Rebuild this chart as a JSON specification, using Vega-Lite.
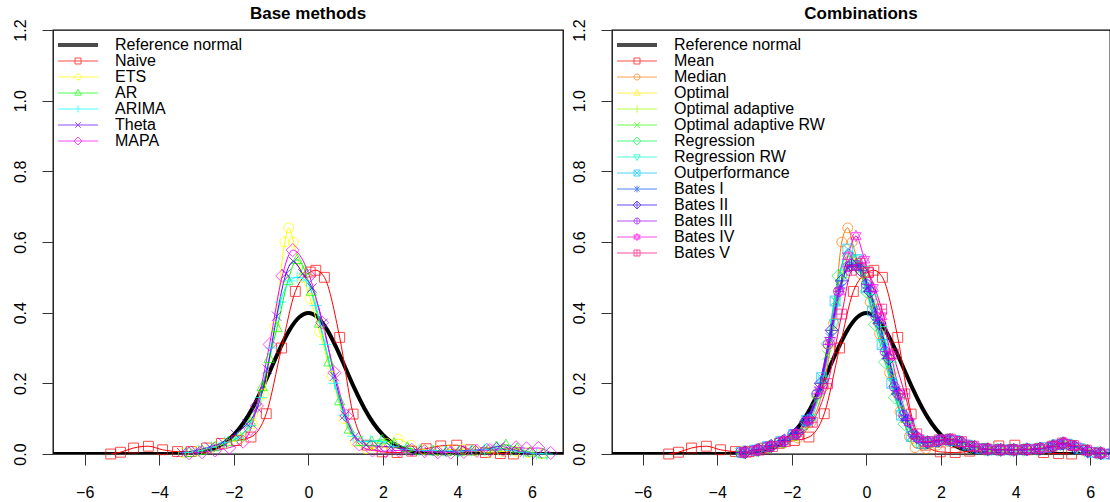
{
  "$schema": "https://vega.github.io/schema/vega-lite/v6.json",
  "usermeta": {"embedOptions": {"actions": false}},
  "background": "white",
  "padding": {"left": 11, "top": 4, "right": 0, "bottom": 0},
  "autosize": {"type": "pad"},
  "spacing": 6,
  "config": {
    "font": "Liberation Sans",
    "view": {"stroke": "black", "strokeWidth": 1.3},
    "axis": {"labelFont": "Liberation Sans", "labelFontSize": 16, "labelColor": "black", "tickColor": "#333", "tickSize": 11, "tickWidth": 1, "domain": false, "grid": false, "title": null, "labelFlush": false, "labelOverlap": false},
    "axisX": {"labelPadding": 19, "labelBaseline": "top"},
    "axisY": {"labelPadding": 14, "labelAngle": -90, "labelAlign": "center", "labelBaseline": "bottom"},
    "title": {"font": "Liberation Sans", "fontSize": 17, "fontWeight": "bold", "color": "black", "offset": -4, "anchor": "middle", "baseline": "bottom"},
    "legend": {"title": null, "orient": "top-left", "offset": 7, "padding": 0, "rowPadding": -1.6, "symbolSize": 16, "symbolOffset": 10, "labelOffset": 29, "labelFont": "Liberation Sans", "labelFontSize": 16, "labelColor": "black", "labelLimit": 0, "symbolStrokeWidth": 1, "symbolFillColor": "transparent"},
    "point": {"filled": false, "size": 120, "strokeWidth": 1, "clip": true}
  },
  "resolve": {"scale": {"color": "independent", "x": "independent", "y": "independent"}},
  "datasets": {
    "normal": [
      {"method": "Reference normal", "x": -6.85, "y": 0},
      {"method": "Reference normal", "x": -5, "y": 0.0000015},
      {"method": "Reference normal", "x": -4.5, "y": 0.000016},
      {"method": "Reference normal", "x": -4, "y": 0.000134},
      {"method": "Reference normal", "x": -3.5, "y": 0.000873},
      {"method": "Reference normal", "x": -3, "y": 0.004432},
      {"method": "Reference normal", "x": -2.75, "y": 0.009094},
      {"method": "Reference normal", "x": -2.5, "y": 0.017528},
      {"method": "Reference normal", "x": -2.25, "y": 0.03174},
      {"method": "Reference normal", "x": -2, "y": 0.053991},
      {"method": "Reference normal", "x": -1.75, "y": 0.086277},
      {"method": "Reference normal", "x": -1.5, "y": 0.129518},
      {"method": "Reference normal", "x": -1.25, "y": 0.182649},
      {"method": "Reference normal", "x": -1, "y": 0.241971},
      {"method": "Reference normal", "x": -0.75, "y": 0.301137},
      {"method": "Reference normal", "x": -0.5, "y": 0.352065},
      {"method": "Reference normal", "x": -0.25, "y": 0.386668},
      {"method": "Reference normal", "x": 0, "y": 0.398942},
      {"method": "Reference normal", "x": 0.25, "y": 0.386668},
      {"method": "Reference normal", "x": 0.5, "y": 0.352065},
      {"method": "Reference normal", "x": 0.75, "y": 0.301137},
      {"method": "Reference normal", "x": 1, "y": 0.241971},
      {"method": "Reference normal", "x": 1.25, "y": 0.182649},
      {"method": "Reference normal", "x": 1.5, "y": 0.129518},
      {"method": "Reference normal", "x": 1.75, "y": 0.086277},
      {"method": "Reference normal", "x": 2, "y": 0.053991},
      {"method": "Reference normal", "x": 2.25, "y": 0.03174},
      {"method": "Reference normal", "x": 2.5, "y": 0.017528},
      {"method": "Reference normal", "x": 2.75, "y": 0.009094},
      {"method": "Reference normal", "x": 3, "y": 0.004432},
      {"method": "Reference normal", "x": 3.5, "y": 0.000873},
      {"method": "Reference normal", "x": 4, "y": 0.000134},
      {"method": "Reference normal", "x": 4.5, "y": 0.000016},
      {"method": "Reference normal", "x": 5, "y": 0.0000015},
      {"method": "Reference normal", "x": 6.85, "y": 0}
    ],
    "base": [
      {"method": "Naive", "x": -5.3, "y": 0}, {"method": "Naive", "x": -5.04, "y": 0.005}, {"method": "Naive", "x": -4.69, "y": 0.017}, {"method": "Naive", "x": -4.29, "y": 0.022}, {"method": "Naive", "x": -3.91, "y": 0.012}, {"method": "Naive", "x": -3.51, "y": 0.007}, {"method": "Naive", "x": -3.14, "y": 0.007}, {"method": "Naive", "x": -2.73, "y": 0.017}, {"method": "Naive", "x": -2.33, "y": 0.03}, {"method": "Naive", "x": -1.93, "y": 0.038}, {"method": "Naive", "x": -1.54, "y": 0.048}, {"method": "Naive", "x": -1.13, "y": 0.114}, {"method": "Naive", "x": -0.72, "y": 0.3}, {"method": "Naive", "x": -0.35, "y": 0.46}, {"method": "Naive", "x": 0.05, "y": 0.515}, {"method": "Naive", "x": 0.2, "y": 0.52}, {"method": "Naive", "x": 0.43, "y": 0.5}, {"method": "Naive", "x": 0.84, "y": 0.33}, {"method": "Naive", "x": 1.2, "y": 0.113}, {"method": "Naive", "x": 1.58, "y": 0.025}, {"method": "Naive", "x": 1.98, "y": 0.006}, {"method": "Naive", "x": 2.38, "y": 0.004}, {"method": "Naive", "x": 2.77, "y": 0.008}, {"method": "Naive", "x": 3.16, "y": 0.015}, {"method": "Naive", "x": 3.55, "y": 0.023}, {"method": "Naive", "x": 3.98, "y": 0.025}, {"method": "Naive", "x": 4.35, "y": 0.012}, {"method": "Naive", "x": 4.75, "y": 0.004}, {"method": "Naive", "x": 5.15, "y": 0.001}, {"method": "Naive", "x": 5.5, "y": 0},

      {"method": "ETS", "x": -3.35, "y": 0.003}, {"method": "ETS", "x": -2.98, "y": 0.008}, {"method": "ETS", "x": -2.6, "y": 0.018}, {"method": "ETS", "x": -2.23, "y": 0.03}, {"method": "ETS", "x": -1.86, "y": 0.042}, {"method": "ETS", "x": -1.5, "y": 0.085}, {"method": "ETS", "x": -1.2, "y": 0.17}, {"method": "ETS", "x": -0.9, "y": 0.36}, {"method": "ETS", "x": -0.63, "y": 0.6}, {"method": "ETS", "x": -0.53, "y": 0.64}, {"method": "ETS", "x": -0.4, "y": 0.6}, {"method": "ETS", "x": -0.15, "y": 0.5}, {"method": "ETS", "x": 0.05, "y": 0.44}, {"method": "ETS", "x": 0.3, "y": 0.346}, {"method": "ETS", "x": 0.63, "y": 0.22}, {"method": "ETS", "x": 0.95, "y": 0.1}, {"method": "ETS", "x": 1.25, "y": 0.035}, {"method": "ETS", "x": 1.55, "y": 0.015}, {"method": "ETS", "x": 1.85, "y": 0.02}, {"method": "ETS", "x": 2.1, "y": 0.03}, {"method": "ETS", "x": 2.41, "y": 0.042}, {"method": "ETS", "x": 2.75, "y": 0.025}, {"method": "ETS", "x": 3.1, "y": 0.012}, {"method": "ETS", "x": 3.45, "y": 0.01}, {"method": "ETS", "x": 3.8, "y": 0.012}, {"method": "ETS", "x": 4.15, "y": 0.014}, {"method": "ETS", "x": 4.5, "y": 0.008}, {"method": "ETS", "x": 4.85, "y": 0.005}, {"method": "ETS", "x": 5.2, "y": 0.007}, {"method": "ETS", "x": 5.55, "y": 0.008}, {"method": "ETS", "x": 5.9, "y": 0.004}, {"method": "ETS", "x": 6.25, "y": 0},

      {"method": "AR", "x": -3.2, "y": 0.004}, {"method": "AR", "x": -2.85, "y": 0.01}, {"method": "AR", "x": -2.5, "y": 0.02}, {"method": "AR", "x": -2.15, "y": 0.034}, {"method": "AR", "x": -1.85, "y": 0.05}, {"method": "AR", "x": -1.55, "y": 0.09}, {"method": "AR", "x": -1.24, "y": 0.19}, {"method": "AR", "x": -1.05, "y": 0.27}, {"method": "AR", "x": -0.84, "y": 0.357}, {"method": "AR", "x": -0.55, "y": 0.49}, {"method": "AR", "x": -0.3, "y": 0.55}, {"method": "AR", "x": -0.1, "y": 0.52}, {"method": "AR", "x": 0.08, "y": 0.46}, {"method": "AR", "x": 0.3, "y": 0.37}, {"method": "AR", "x": 0.55, "y": 0.26}, {"method": "AR", "x": 0.84, "y": 0.15}, {"method": "AR", "x": 1.1, "y": 0.07}, {"method": "AR", "x": 1.4, "y": 0.035}, {"method": "AR", "x": 1.7, "y": 0.035}, {"method": "AR", "x": 1.98, "y": 0.04}, {"method": "AR", "x": 2.3, "y": 0.03}, {"method": "AR", "x": 2.65, "y": 0.018}, {"method": "AR", "x": 3, "y": 0.01}, {"method": "AR", "x": 3.35, "y": 0.008}, {"method": "AR", "x": 3.7, "y": 0.006}, {"method": "AR", "x": 4.05, "y": 0.006}, {"method": "AR", "x": 4.4, "y": 0.008}, {"method": "AR", "x": 4.75, "y": 0.012}, {"method": "AR", "x": 5.05, "y": 0.02}, {"method": "AR", "x": 5.3, "y": 0.026}, {"method": "AR", "x": 5.6, "y": 0.015}, {"method": "AR", "x": 5.95, "y": 0.005}, {"method": "AR", "x": 6.3, "y": 0},

      {"method": "ARIMA", "x": -3.3, "y": 0.004}, {"method": "ARIMA", "x": -2.95, "y": 0.009}, {"method": "ARIMA", "x": -2.6, "y": 0.019}, {"method": "ARIMA", "x": -2.25, "y": 0.032}, {"method": "ARIMA", "x": -1.9, "y": 0.045}, {"method": "ARIMA", "x": -1.58, "y": 0.08}, {"method": "ARIMA", "x": -1.28, "y": 0.16}, {"method": "ARIMA", "x": -1, "y": 0.3}, {"method": "ARIMA", "x": -0.75, "y": 0.43}, {"method": "ARIMA", "x": -0.5, "y": 0.49}, {"method": "ARIMA", "x": -0.3, "y": 0.5}, {"method": "ARIMA", "x": -0.05, "y": 0.49}, {"method": "ARIMA", "x": 0.2, "y": 0.42}, {"method": "ARIMA", "x": 0.45, "y": 0.31}, {"method": "ARIMA", "x": 0.7, "y": 0.2}, {"method": "ARIMA", "x": 0.95, "y": 0.11}, {"method": "ARIMA", "x": 1.2, "y": 0.05}, {"method": "ARIMA", "x": 1.45, "y": 0.035}, {"method": "ARIMA", "x": 1.66, "y": 0.037}, {"method": "ARIMA", "x": 1.95, "y": 0.035}, {"method": "ARIMA", "x": 2.28, "y": 0.022}, {"method": "ARIMA", "x": 2.62, "y": 0.013}, {"method": "ARIMA", "x": 2.97, "y": 0.01}, {"method": "ARIMA", "x": 3.32, "y": 0.01}, {"method": "ARIMA", "x": 3.67, "y": 0.009}, {"method": "ARIMA", "x": 4.02, "y": 0.008}, {"method": "ARIMA", "x": 4.37, "y": 0.01}, {"method": "ARIMA", "x": 4.72, "y": 0.012}, {"method": "ARIMA", "x": 5.07, "y": 0.015}, {"method": "ARIMA", "x": 5.42, "y": 0.01}, {"method": "ARIMA", "x": 5.77, "y": 0.005}, {"method": "ARIMA", "x": 6.12, "y": 0.001}, {"method": "ARIMA", "x": 6.4, "y": 0},

      {"method": "Theta", "x": -3.4, "y": 0.004}, {"method": "Theta", "x": -3.02, "y": 0.01}, {"method": "Theta", "x": -2.65, "y": 0.02}, {"method": "Theta", "x": -2.3, "y": 0.033}, {"method": "Theta", "x": -1.96, "y": 0.056}, {"method": "Theta", "x": -1.65, "y": 0.085}, {"method": "Theta", "x": -1.37, "y": 0.13}, {"method": "Theta", "x": -1.1, "y": 0.24}, {"method": "Theta", "x": -0.85, "y": 0.39}, {"method": "Theta", "x": -0.6, "y": 0.51}, {"method": "Theta", "x": -0.4, "y": 0.545}, {"method": "Theta", "x": -0.15, "y": 0.51}, {"method": "Theta", "x": 0.1, "y": 0.47}, {"method": "Theta", "x": 0.39, "y": 0.37}, {"method": "Theta", "x": 0.7, "y": 0.22}, {"method": "Theta", "x": 0.98, "y": 0.11}, {"method": "Theta", "x": 1.25, "y": 0.05}, {"method": "Theta", "x": 1.55, "y": 0.025}, {"method": "Theta", "x": 1.88, "y": 0.022}, {"method": "Theta", "x": 2.22, "y": 0.02}, {"method": "Theta", "x": 2.56, "y": 0.014}, {"method": "Theta", "x": 2.9, "y": 0.01}, {"method": "Theta", "x": 3.24, "y": 0.007}, {"method": "Theta", "x": 3.58, "y": 0.006}, {"method": "Theta", "x": 3.92, "y": 0.008}, {"method": "Theta", "x": 4.26, "y": 0.01}, {"method": "Theta", "x": 4.6, "y": 0.012}, {"method": "Theta", "x": 4.9, "y": 0.018}, {"method": "Theta", "x": 5.15, "y": 0.022}, {"method": "Theta", "x": 5.45, "y": 0.013}, {"method": "Theta", "x": 5.8, "y": 0.005}, {"method": "Theta", "x": 6.15, "y": 0},

      {"method": "MAPA", "x": -3.2, "y": 0.002}, {"method": "MAPA", "x": -2.85, "y": 0.005}, {"method": "MAPA", "x": -2.5, "y": 0.01}, {"method": "MAPA", "x": -2.12, "y": 0.018}, {"method": "MAPA", "x": -1.75, "y": 0.035}, {"method": "MAPA", "x": -1.55, "y": 0.07}, {"method": "MAPA", "x": -1.38, "y": 0.136}, {"method": "MAPA", "x": -1.04, "y": 0.31}, {"method": "MAPA", "x": -0.7, "y": 0.504}, {"method": "MAPA", "x": -0.42, "y": 0.577}, {"method": "MAPA", "x": 0.03, "y": 0.504}, {"method": "MAPA", "x": 0.37, "y": 0.372}, {"method": "MAPA", "x": 0.7, "y": 0.23}, {"method": "MAPA", "x": 1.02, "y": 0.108}, {"method": "MAPA", "x": 1.37, "y": 0.027}, {"method": "MAPA", "x": 1.72, "y": 0.01}, {"method": "MAPA", "x": 2.07, "y": 0.008}, {"method": "MAPA", "x": 2.42, "y": 0.01}, {"method": "MAPA", "x": 2.77, "y": 0.012}, {"method": "MAPA", "x": 3.12, "y": 0.008}, {"method": "MAPA", "x": 3.47, "y": 0.005}, {"method": "MAPA", "x": 3.82, "y": 0.004}, {"method": "MAPA", "x": 4.17, "y": 0.006}, {"method": "MAPA", "x": 4.52, "y": 0.009}, {"method": "MAPA", "x": 4.87, "y": 0.011}, {"method": "MAPA", "x": 5.22, "y": 0.012}, {"method": "MAPA", "x": 5.57, "y": 0.019}, {"method": "MAPA", "x": 5.85, "y": 0.016}, {"method": "MAPA", "x": 6.17, "y": 0.017}, {"method": "MAPA", "x": 6.5, "y": 0.003}
    ],
    "comb": [
      {"method": "Mean", "x": -5.3, "y": 0}, {"method": "Mean", "x": -5.04, "y": 0.005}, {"method": "Mean", "x": -4.69, "y": 0.017}, {"method": "Mean", "x": -4.29, "y": 0.022}, {"method": "Mean", "x": -3.91, "y": 0.012}, {"method": "Mean", "x": -3.51, "y": 0.007}, {"method": "Mean", "x": -3.14, "y": 0.007}, {"method": "Mean", "x": -2.73, "y": 0.017}, {"method": "Mean", "x": -2.33, "y": 0.03}, {"method": "Mean", "x": -1.93, "y": 0.038}, {"method": "Mean", "x": -1.54, "y": 0.048}, {"method": "Mean", "x": -1.13, "y": 0.114}, {"method": "Mean", "x": -0.72, "y": 0.3}, {"method": "Mean", "x": -0.35, "y": 0.46}, {"method": "Mean", "x": 0.05, "y": 0.515}, {"method": "Mean", "x": 0.2, "y": 0.52}, {"method": "Mean", "x": 0.43, "y": 0.5}, {"method": "Mean", "x": 0.84, "y": 0.33}, {"method": "Mean", "x": 1.2, "y": 0.113}, {"method": "Mean", "x": 1.58, "y": 0.025}, {"method": "Mean", "x": 1.98, "y": 0.006}, {"method": "Mean", "x": 2.38, "y": 0.004}, {"method": "Mean", "x": 2.77, "y": 0.008}, {"method": "Mean", "x": 3.16, "y": 0.015}, {"method": "Mean", "x": 3.55, "y": 0.023}, {"method": "Mean", "x": 3.98, "y": 0.025}, {"method": "Mean", "x": 4.35, "y": 0.012}, {"method": "Mean", "x": 4.75, "y": 0.004}, {"method": "Mean", "x": 5.15, "y": 0.001}, {"method": "Mean", "x": 5.5, "y": 0},

      {"method": "Median", "x": -3.3, "y": 0.004}, {"method": "Median", "x": -2.93, "y": 0.01}, {"method": "Median", "x": -2.56, "y": 0.02}, {"method": "Median", "x": -2.2, "y": 0.032}, {"method": "Median", "x": -1.84, "y": 0.045}, {"method": "Median", "x": -1.48, "y": 0.09}, {"method": "Median", "x": -1.15, "y": 0.19}, {"method": "Median", "x": -0.88, "y": 0.37}, {"method": "Median", "x": -0.66, "y": 0.6}, {"method": "Median", "x": -0.5, "y": 0.64}, {"method": "Median", "x": -0.38, "y": 0.6}, {"method": "Median", "x": -0.15, "y": 0.51}, {"method": "Median", "x": 0.1, "y": 0.43}, {"method": "Median", "x": 0.35, "y": 0.34}, {"method": "Median", "x": 0.62, "y": 0.23}, {"method": "Median", "x": 0.9, "y": 0.12}, {"method": "Median", "x": 1.15, "y": 0.05}, {"method": "Median", "x": 1.3, "y": 0.018}, {"method": "Median", "x": 1.6, "y": 0.015}, {"method": "Median", "x": 1.9, "y": 0.025}, {"method": "Median", "x": 2.2, "y": 0.035}, {"method": "Median", "x": 2.5, "y": 0.035}, {"method": "Median", "x": 2.85, "y": 0.02}, {"method": "Median", "x": 3.2, "y": 0.012}, {"method": "Median", "x": 3.55, "y": 0.011}, {"method": "Median", "x": 3.9, "y": 0.012}, {"method": "Median", "x": 4.25, "y": 0.012}, {"method": "Median", "x": 4.6, "y": 0.014}, {"method": "Median", "x": 4.95, "y": 0.02}, {"method": "Median", "x": 5.25, "y": 0.028}, {"method": "Median", "x": 5.6, "y": 0.018}, {"method": "Median", "x": 5.95, "y": 0.007}, {"method": "Median", "x": 6.3, "y": 0.001},

      {"method": "Optimal", "x": -3.35, "y": 0.004}, {"method": "Optimal", "x": -3, "y": 0.009}, {"method": "Optimal", "x": -2.65, "y": 0.018}, {"method": "Optimal", "x": -2.3, "y": 0.03}, {"method": "Optimal", "x": -1.95, "y": 0.05}, {"method": "Optimal", "x": -1.62, "y": 0.085}, {"method": "Optimal", "x": -1.3, "y": 0.17}, {"method": "Optimal", "x": -1, "y": 0.31}, {"method": "Optimal", "x": -0.72, "y": 0.47}, {"method": "Optimal", "x": -0.45, "y": 0.56}, {"method": "Optimal", "x": -0.2, "y": 0.54}, {"method": "Optimal", "x": 0.05, "y": 0.47}, {"method": "Optimal", "x": 0.3, "y": 0.38}, {"method": "Optimal", "x": 0.55, "y": 0.28}, {"method": "Optimal", "x": 0.8, "y": 0.18}, {"method": "Optimal", "x": 1.05, "y": 0.1}, {"method": "Optimal", "x": 1.3, "y": 0.045}, {"method": "Optimal", "x": 1.6, "y": 0.03}, {"method": "Optimal", "x": 1.9, "y": 0.035}, {"method": "Optimal", "x": 2.2, "y": 0.04}, {"method": "Optimal", "x": 2.5, "y": 0.033}, {"method": "Optimal", "x": 2.85, "y": 0.02}, {"method": "Optimal", "x": 3.2, "y": 0.013}, {"method": "Optimal", "x": 3.55, "y": 0.012}, {"method": "Optimal", "x": 3.9, "y": 0.012}, {"method": "Optimal", "x": 4.25, "y": 0.013}, {"method": "Optimal", "x": 4.6, "y": 0.015}, {"method": "Optimal", "x": 4.95, "y": 0.021}, {"method": "Optimal", "x": 5.25, "y": 0.03}, {"method": "Optimal", "x": 5.55, "y": 0.022}, {"method": "Optimal", "x": 5.9, "y": 0.01}, {"method": "Optimal", "x": 6.25, "y": 0.003},

      {"method": "Optimal adaptive", "x": -3.25, "y": 0.004}, {"method": "Optimal adaptive", "x": -2.9, "y": 0.01}, {"method": "Optimal adaptive", "x": -2.55, "y": 0.02}, {"method": "Optimal adaptive", "x": -2.2, "y": 0.033}, {"method": "Optimal adaptive", "x": -1.85, "y": 0.052}, {"method": "Optimal adaptive", "x": -1.52, "y": 0.095}, {"method": "Optimal adaptive", "x": -1.2, "y": 0.2}, {"method": "Optimal adaptive", "x": -0.9, "y": 0.35}, {"method": "Optimal adaptive", "x": -0.62, "y": 0.5}, {"method": "Optimal adaptive", "x": -0.38, "y": 0.55}, {"method": "Optimal adaptive", "x": -0.12, "y": 0.52}, {"method": "Optimal adaptive", "x": 0.12, "y": 0.45}, {"method": "Optimal adaptive", "x": 0.38, "y": 0.36}, {"method": "Optimal adaptive", "x": 0.62, "y": 0.26}, {"method": "Optimal adaptive", "x": 0.88, "y": 0.16}, {"method": "Optimal adaptive", "x": 1.12, "y": 0.09}, {"method": "Optimal adaptive", "x": 1.38, "y": 0.045}, {"method": "Optimal adaptive", "x": 1.68, "y": 0.032}, {"method": "Optimal adaptive", "x": 1.98, "y": 0.038}, {"method": "Optimal adaptive", "x": 2.28, "y": 0.04}, {"method": "Optimal adaptive", "x": 2.6, "y": 0.03}, {"method": "Optimal adaptive", "x": 2.95, "y": 0.018}, {"method": "Optimal adaptive", "x": 3.3, "y": 0.012}, {"method": "Optimal adaptive", "x": 3.65, "y": 0.012}, {"method": "Optimal adaptive", "x": 4, "y": 0.012}, {"method": "Optimal adaptive", "x": 4.35, "y": 0.013}, {"method": "Optimal adaptive", "x": 4.7, "y": 0.016}, {"method": "Optimal adaptive", "x": 5.05, "y": 0.024}, {"method": "Optimal adaptive", "x": 5.3, "y": 0.03}, {"method": "Optimal adaptive", "x": 5.6, "y": 0.02}, {"method": "Optimal adaptive", "x": 5.95, "y": 0.008}, {"method": "Optimal adaptive", "x": 6.3, "y": 0.002},

      {"method": "Optimal adaptive RW", "x": -3.4, "y": 0.004}, {"method": "Optimal adaptive RW", "x": -3.05, "y": 0.009}, {"method": "Optimal adaptive RW", "x": -2.7, "y": 0.018}, {"method": "Optimal adaptive RW", "x": -2.35, "y": 0.03}, {"method": "Optimal adaptive RW", "x": -2, "y": 0.05}, {"method": "Optimal adaptive RW", "x": -1.68, "y": 0.08}, {"method": "Optimal adaptive RW", "x": -1.36, "y": 0.15}, {"method": "Optimal adaptive RW", "x": -1.06, "y": 0.28}, {"method": "Optimal adaptive RW", "x": -0.78, "y": 0.43}, {"method": "Optimal adaptive RW", "x": -0.52, "y": 0.53}, {"method": "Optimal adaptive RW", "x": -0.28, "y": 0.54}, {"method": "Optimal adaptive RW", "x": -0.02, "y": 0.5}, {"method": "Optimal adaptive RW", "x": 0.22, "y": 0.42}, {"method": "Optimal adaptive RW", "x": 0.47, "y": 0.32}, {"method": "Optimal adaptive RW", "x": 0.72, "y": 0.22}, {"method": "Optimal adaptive RW", "x": 0.97, "y": 0.13}, {"method": "Optimal adaptive RW", "x": 1.22, "y": 0.065}, {"method": "Optimal adaptive RW", "x": 1.5, "y": 0.035}, {"method": "Optimal adaptive RW", "x": 1.8, "y": 0.032}, {"method": "Optimal adaptive RW", "x": 2.1, "y": 0.038}, {"method": "Optimal adaptive RW", "x": 2.4, "y": 0.036}, {"method": "Optimal adaptive RW", "x": 2.72, "y": 0.025}, {"method": "Optimal adaptive RW", "x": 3.07, "y": 0.015}, {"method": "Optimal adaptive RW", "x": 3.42, "y": 0.012}, {"method": "Optimal adaptive RW", "x": 3.77, "y": 0.012}, {"method": "Optimal adaptive RW", "x": 4.12, "y": 0.012}, {"method": "Optimal adaptive RW", "x": 4.47, "y": 0.014}, {"method": "Optimal adaptive RW", "x": 4.82, "y": 0.018}, {"method": "Optimal adaptive RW", "x": 5.12, "y": 0.026}, {"method": "Optimal adaptive RW", "x": 5.42, "y": 0.026}, {"method": "Optimal adaptive RW", "x": 5.75, "y": 0.014}, {"method": "Optimal adaptive RW", "x": 6.1, "y": 0.005}, {"method": "Optimal adaptive RW", "x": 6.45, "y": 0},

      {"method": "Regression", "x": -3.3, "y": 0.005}, {"method": "Regression", "x": -2.95, "y": 0.011}, {"method": "Regression", "x": -2.6, "y": 0.021}, {"method": "Regression", "x": -2.25, "y": 0.035}, {"method": "Regression", "x": -1.9, "y": 0.056}, {"method": "Regression", "x": -1.56, "y": 0.095}, {"method": "Regression", "x": -1.3, "y": 0.17}, {"method": "Regression", "x": -1.04, "y": 0.312}, {"method": "Regression", "x": -0.75, "y": 0.504}, {"method": "Regression", "x": -0.48, "y": 0.56}, {"method": "Regression", "x": -0.22, "y": 0.53}, {"method": "Regression", "x": 0, "y": 0.46}, {"method": "Regression", "x": 0.23, "y": 0.367}, {"method": "Regression", "x": 0.5, "y": 0.26}, {"method": "Regression", "x": 0.76, "y": 0.16}, {"method": "Regression", "x": 1.02, "y": 0.085}, {"method": "Regression", "x": 1.28, "y": 0.04}, {"method": "Regression", "x": 1.58, "y": 0.03}, {"method": "Regression", "x": 1.88, "y": 0.036}, {"method": "Regression", "x": 2.18, "y": 0.04}, {"method": "Regression", "x": 2.48, "y": 0.034}, {"method": "Regression", "x": 2.82, "y": 0.02}, {"method": "Regression", "x": 3.17, "y": 0.013}, {"method": "Regression", "x": 3.52, "y": 0.012}, {"method": "Regression", "x": 3.87, "y": 0.012}, {"method": "Regression", "x": 4.22, "y": 0.012}, {"method": "Regression", "x": 4.57, "y": 0.014}, {"method": "Regression", "x": 4.92, "y": 0.02}, {"method": "Regression", "x": 5.2, "y": 0.028}, {"method": "Regression", "x": 5.5, "y": 0.024}, {"method": "Regression", "x": 5.85, "y": 0.011}, {"method": "Regression", "x": 6.2, "y": 0.003},

      {"method": "Regression RW", "x": -3.2, "y": 0.005}, {"method": "Regression RW", "x": -2.85, "y": 0.012}, {"method": "Regression RW", "x": -2.5, "y": 0.022}, {"method": "Regression RW", "x": -2.15, "y": 0.036}, {"method": "Regression RW", "x": -1.8, "y": 0.058}, {"method": "Regression RW", "x": -1.47, "y": 0.1}, {"method": "Regression RW", "x": -1.16, "y": 0.21}, {"method": "Regression RW", "x": -0.86, "y": 0.37}, {"method": "Regression RW", "x": -0.58, "y": 0.51}, {"method": "Regression RW", "x": -0.33, "y": 0.55}, {"method": "Regression RW", "x": -0.08, "y": 0.52}, {"method": "Regression RW", "x": 0.17, "y": 0.44}, {"method": "Regression RW", "x": 0.42, "y": 0.35}, {"method": "Regression RW", "x": 0.67, "y": 0.25}, {"method": "Regression RW", "x": 0.92, "y": 0.15}, {"method": "Regression RW", "x": 1.17, "y": 0.08}, {"method": "Regression RW", "x": 1.42, "y": 0.042}, {"method": "Regression RW", "x": 1.72, "y": 0.032}, {"method": "Regression RW", "x": 2.02, "y": 0.04}, {"method": "Regression RW", "x": 2.32, "y": 0.04}, {"method": "Regression RW", "x": 2.65, "y": 0.028}, {"method": "Regression RW", "x": 3, "y": 0.016}, {"method": "Regression RW", "x": 3.35, "y": 0.012}, {"method": "Regression RW", "x": 3.7, "y": 0.012}, {"method": "Regression RW", "x": 4.05, "y": 0.012}, {"method": "Regression RW", "x": 4.4, "y": 0.013}, {"method": "Regression RW", "x": 4.75, "y": 0.016}, {"method": "Regression RW", "x": 5.08, "y": 0.024}, {"method": "Regression RW", "x": 5.35, "y": 0.03}, {"method": "Regression RW", "x": 5.65, "y": 0.018}, {"method": "Regression RW", "x": 6, "y": 0.007}, {"method": "Regression RW", "x": 6.35, "y": 0.001},

      {"method": "Outperformance", "x": -3.35, "y": 0.005}, {"method": "Outperformance", "x": -3, "y": 0.011}, {"method": "Outperformance", "x": -2.65, "y": 0.021}, {"method": "Outperformance", "x": -2.3, "y": 0.035}, {"method": "Outperformance", "x": -1.95, "y": 0.055}, {"method": "Outperformance", "x": -1.6, "y": 0.095}, {"method": "Outperformance", "x": -1.2, "y": 0.216}, {"method": "Outperformance", "x": -0.84, "y": 0.433}, {"method": "Outperformance", "x": -0.5, "y": 0.58}, {"method": "Outperformance", "x": -0.25, "y": 0.55}, {"method": "Outperformance", "x": 0, "y": 0.47}, {"method": "Outperformance", "x": 0.16, "y": 0.405}, {"method": "Outperformance", "x": 0.42, "y": 0.31}, {"method": "Outperformance", "x": 0.68, "y": 0.2}, {"method": "Outperformance", "x": 0.94, "y": 0.11}, {"method": "Outperformance", "x": 1.2, "y": 0.05}, {"method": "Outperformance", "x": 1.48, "y": 0.03}, {"method": "Outperformance", "x": 1.78, "y": 0.035}, {"method": "Outperformance", "x": 2.08, "y": 0.04}, {"method": "Outperformance", "x": 2.38, "y": 0.038}, {"method": "Outperformance", "x": 2.7, "y": 0.025}, {"method": "Outperformance", "x": 3.05, "y": 0.015}, {"method": "Outperformance", "x": 3.4, "y": 0.012}, {"method": "Outperformance", "x": 3.75, "y": 0.012}, {"method": "Outperformance", "x": 4.1, "y": 0.012}, {"method": "Outperformance", "x": 4.45, "y": 0.014}, {"method": "Outperformance", "x": 4.8, "y": 0.018}, {"method": "Outperformance", "x": 5.1, "y": 0.026}, {"method": "Outperformance", "x": 5.38, "y": 0.028}, {"method": "Outperformance", "x": 5.7, "y": 0.015}, {"method": "Outperformance", "x": 6.05, "y": 0.005}, {"method": "Outperformance", "x": 6.4, "y": 0},

      {"method": "Bates I", "x": -3.3, "y": 0.005}, {"method": "Bates I", "x": -2.95, "y": 0.011}, {"method": "Bates I", "x": -2.6, "y": 0.022}, {"method": "Bates I", "x": -2.25, "y": 0.037}, {"method": "Bates I", "x": -1.92, "y": 0.058}, {"method": "Bates I", "x": -1.6, "y": 0.095}, {"method": "Bates I", "x": -1.28, "y": 0.18}, {"method": "Bates I", "x": -0.98, "y": 0.33}, {"method": "Bates I", "x": -0.7, "y": 0.47}, {"method": "Bates I", "x": -0.45, "y": 0.53}, {"method": "Bates I", "x": -0.2, "y": 0.53}, {"method": "Bates I", "x": 0.05, "y": 0.47}, {"method": "Bates I", "x": 0.3, "y": 0.38}, {"method": "Bates I", "x": 0.55, "y": 0.28}, {"method": "Bates I", "x": 0.8, "y": 0.18}, {"method": "Bates I", "x": 1.05, "y": 0.1}, {"method": "Bates I", "x": 1.3, "y": 0.05}, {"method": "Bates I", "x": 1.58, "y": 0.033}, {"method": "Bates I", "x": 1.88, "y": 0.036}, {"method": "Bates I", "x": 2.18, "y": 0.04}, {"method": "Bates I", "x": 2.5, "y": 0.034}, {"method": "Bates I", "x": 2.84, "y": 0.021}, {"method": "Bates I", "x": 3.19, "y": 0.013}, {"method": "Bates I", "x": 3.54, "y": 0.012}, {"method": "Bates I", "x": 3.89, "y": 0.012}, {"method": "Bates I", "x": 4.24, "y": 0.012}, {"method": "Bates I", "x": 4.59, "y": 0.014}, {"method": "Bates I", "x": 4.94, "y": 0.02}, {"method": "Bates I", "x": 5.22, "y": 0.028}, {"method": "Bates I", "x": 5.52, "y": 0.022}, {"method": "Bates I", "x": 5.87, "y": 0.01}, {"method": "Bates I", "x": 6.22, "y": 0.002},

      {"method": "Bates II", "x": -3.25, "y": 0.005}, {"method": "Bates II", "x": -2.9, "y": 0.012}, {"method": "Bates II", "x": -2.55, "y": 0.023}, {"method": "Bates II", "x": -2.2, "y": 0.038}, {"method": "Bates II", "x": -1.86, "y": 0.06}, {"method": "Bates II", "x": -1.54, "y": 0.1}, {"method": "Bates II", "x": -1.22, "y": 0.2}, {"method": "Bates II", "x": -0.93, "y": 0.35}, {"method": "Bates II", "x": -0.66, "y": 0.49}, {"method": "Bates II", "x": -0.4, "y": 0.535}, {"method": "Bates II", "x": -0.15, "y": 0.52}, {"method": "Bates II", "x": 0.1, "y": 0.46}, {"method": "Bates II", "x": 0.35, "y": 0.37}, {"method": "Bates II", "x": 0.6, "y": 0.27}, {"method": "Bates II", "x": 0.85, "y": 0.17}, {"method": "Bates II", "x": 1.1, "y": 0.095}, {"method": "Bates II", "x": 1.35, "y": 0.048}, {"method": "Bates II", "x": 1.64, "y": 0.033}, {"method": "Bates II", "x": 1.94, "y": 0.038}, {"method": "Bates II", "x": 2.24, "y": 0.04}, {"method": "Bates II", "x": 2.56, "y": 0.032}, {"method": "Bates II", "x": 2.9, "y": 0.02}, {"method": "Bates II", "x": 3.25, "y": 0.013}, {"method": "Bates II", "x": 3.6, "y": 0.012}, {"method": "Bates II", "x": 3.95, "y": 0.012}, {"method": "Bates II", "x": 4.3, "y": 0.013}, {"method": "Bates II", "x": 4.65, "y": 0.015}, {"method": "Bates II", "x": 5, "y": 0.022}, {"method": "Bates II", "x": 5.27, "y": 0.03}, {"method": "Bates II", "x": 5.58, "y": 0.02}, {"method": "Bates II", "x": 5.93, "y": 0.008}, {"method": "Bates II", "x": 6.28, "y": 0.002},

      {"method": "Bates III", "x": -3.38, "y": 0.004}, {"method": "Bates III", "x": -3.03, "y": 0.01}, {"method": "Bates III", "x": -2.68, "y": 0.02}, {"method": "Bates III", "x": -2.33, "y": 0.034}, {"method": "Bates III", "x": -1.98, "y": 0.055}, {"method": "Bates III", "x": -1.65, "y": 0.09}, {"method": "Bates III", "x": -1.33, "y": 0.17}, {"method": "Bates III", "x": -1.03, "y": 0.31}, {"method": "Bates III", "x": -0.75, "y": 0.46}, {"method": "Bates III", "x": -0.5, "y": 0.53}, {"method": "Bates III", "x": -0.25, "y": 0.535}, {"method": "Bates III", "x": 0, "y": 0.48}, {"method": "Bates III", "x": 0.25, "y": 0.39}, {"method": "Bates III", "x": 0.5, "y": 0.29}, {"method": "Bates III", "x": 0.75, "y": 0.19}, {"method": "Bates III", "x": 1, "y": 0.11}, {"method": "Bates III", "x": 1.25, "y": 0.055}, {"method": "Bates III", "x": 1.53, "y": 0.034}, {"method": "Bates III", "x": 1.83, "y": 0.035}, {"method": "Bates III", "x": 2.13, "y": 0.04}, {"method": "Bates III", "x": 2.44, "y": 0.036}, {"method": "Bates III", "x": 2.78, "y": 0.022}, {"method": "Bates III", "x": 3.13, "y": 0.014}, {"method": "Bates III", "x": 3.48, "y": 0.012}, {"method": "Bates III", "x": 3.83, "y": 0.012}, {"method": "Bates III", "x": 4.18, "y": 0.012}, {"method": "Bates III", "x": 4.53, "y": 0.014}, {"method": "Bates III", "x": 4.88, "y": 0.019}, {"method": "Bates III", "x": 5.17, "y": 0.027}, {"method": "Bates III", "x": 5.47, "y": 0.024}, {"method": "Bates III", "x": 5.8, "y": 0.012}, {"method": "Bates III", "x": 6.15, "y": 0.003}, {"method": "Bates III", "x": 6.5, "y": 0},

      {"method": "Bates IV", "x": -3.28, "y": 0.005}, {"method": "Bates IV", "x": -2.93, "y": 0.011}, {"method": "Bates IV", "x": -2.58, "y": 0.022}, {"method": "Bates IV", "x": -2.23, "y": 0.037}, {"method": "Bates IV", "x": -1.88, "y": 0.058}, {"method": "Bates IV", "x": -1.55, "y": 0.095}, {"method": "Bates IV", "x": -1.25, "y": 0.18}, {"method": "Bates IV", "x": -0.97, "y": 0.32}, {"method": "Bates IV", "x": -0.72, "y": 0.46}, {"method": "Bates IV", "x": -0.5, "y": 0.56}, {"method": "Bates IV", "x": -0.28, "y": 0.617}, {"method": "Bates IV", "x": -0.05, "y": 0.55}, {"method": "Bates IV", "x": 0.18, "y": 0.47}, {"method": "Bates IV", "x": 0.41, "y": 0.39}, {"method": "Bates IV", "x": 0.66, "y": 0.28}, {"method": "Bates IV", "x": 0.9, "y": 0.17}, {"method": "Bates IV", "x": 1.15, "y": 0.09}, {"method": "Bates IV", "x": 1.4, "y": 0.045}, {"method": "Bates IV", "x": 1.7, "y": 0.034}, {"method": "Bates IV", "x": 2, "y": 0.04}, {"method": "Bates IV", "x": 2.3, "y": 0.042}, {"method": "Bates IV", "x": 2.62, "y": 0.03}, {"method": "Bates IV", "x": 2.96, "y": 0.018}, {"method": "Bates IV", "x": 3.31, "y": 0.013}, {"method": "Bates IV", "x": 3.66, "y": 0.012}, {"method": "Bates IV", "x": 4.01, "y": 0.012}, {"method": "Bates IV", "x": 4.36, "y": 0.013}, {"method": "Bates IV", "x": 4.71, "y": 0.016}, {"method": "Bates IV", "x": 5.05, "y": 0.024}, {"method": "Bates IV", "x": 5.32, "y": 0.032}, {"method": "Bates IV", "x": 5.62, "y": 0.022}, {"method": "Bates IV", "x": 5.97, "y": 0.009}, {"method": "Bates IV", "x": 6.32, "y": 0.002},

      {"method": "Bates V", "x": -3.22, "y": 0.005}, {"method": "Bates V", "x": -2.87, "y": 0.011}, {"method": "Bates V", "x": -2.52, "y": 0.021}, {"method": "Bates V", "x": -2.17, "y": 0.035}, {"method": "Bates V", "x": -1.82, "y": 0.055}, {"method": "Bates V", "x": -1.45, "y": 0.09}, {"method": "Bates V", "x": -1.04, "y": 0.199}, {"method": "Bates V", "x": -0.66, "y": 0.396}, {"method": "Bates V", "x": -0.4, "y": 0.52}, {"method": "Bates V", "x": -0.15, "y": 0.54}, {"method": "Bates V", "x": 0.05, "y": 0.513}, {"method": "Bates V", "x": 0.41, "y": 0.41}, {"method": "Bates V", "x": 0.72, "y": 0.283}, {"method": "Bates V", "x": 1.03, "y": 0.17}, {"method": "Bates V", "x": 1.35, "y": 0.057}, {"method": "Bates V", "x": 1.65, "y": 0.035}, {"method": "Bates V", "x": 1.95, "y": 0.04}, {"method": "Bates V", "x": 2.25, "y": 0.042}, {"method": "Bates V", "x": 2.55, "y": 0.035}, {"method": "Bates V", "x": 2.88, "y": 0.022}, {"method": "Bates V", "x": 3.23, "y": 0.014}, {"method": "Bates V", "x": 3.58, "y": 0.012}, {"method": "Bates V", "x": 3.93, "y": 0.012}, {"method": "Bates V", "x": 4.28, "y": 0.013}, {"method": "Bates V", "x": 4.63, "y": 0.015}, {"method": "Bates V", "x": 4.98, "y": 0.022}, {"method": "Bates V", "x": 5.25, "y": 0.031}, {"method": "Bates V", "x": 5.55, "y": 0.024}, {"method": "Bates V", "x": 5.9, "y": 0.011}, {"method": "Bates V", "x": 6.25, "y": 0.003}
    ]
  },
  "hconcat": [
    {
      "title": "Base methods",
      "width": 510,
      "height": 424,
      "encoding": {
        "x": {"field": "x", "type": "quantitative", "scale": {"domain": [-6.85, 6.83], "nice": false, "zero": false}, "axis": {"values": [-6, -4, -2, 0, 2, 4, 6], "format": "d"}},
        "y": {"field": "y", "type": "quantitative", "scale": {"domain": [0, 1.2], "nice": false, "zero": false}, "axis": {"values": [0, 0.2, 0.4, 0.6, 0.8, 1.0, 1.2], "format": ".1f"}},
        "color": {"field": "method", "type": "nominal", "scale": {"domain": ["Reference normal", "Naive", "ETS", "AR", "ARIMA", "Theta", "MAPA"], "range": ["#000000", "#FF0000", "#FFFF00", "#00FF00", "#00FFFF", "#6000FF", "#FF00FF"]}, "legend": {"rowPadding": -1.6, "symbolType": {"expr": "['M-10,-0.75H10M-10,-0.25H10M-10,0.25H10M-10,0.75H10','M-10,0H10M-1.5,-1.5H1.5V1.5H-1.5Z','M-10,0H10M-1.5,0A1.5,1.5 0 1,0 1.5,0A1.5,1.5 0 1,0 -1.5,0Z','M-10,0H10M0,-1.8L1.6,1.1H-1.6Z','M-10,0H10M0,-1.8V1.8','M-10,0H10M-1.4,-1.4L1.4,1.4M-1.4,1.4L1.4,-1.4','M-10,0H10M0,-2L2,0L0,2L-2,0Z'][indexof(['Reference normal','Naive','ETS','AR','ARIMA','Theta','MAPA'], datum.value)]"}}}
      },
      "layer": [
        {"data": {"name": "normal"}, "mark": {"type": "line", "strokeWidth": 4, "clip": true, "interpolate": "monotone"}},
        {"data": {"name": "base"}, "mark": {"type": "line", "strokeWidth": 1, "clip": true, "interpolate": "monotone"}},
        {"data": {"name": "base"}, "transform": [{"filter": {"field": "method", "equal": "Naive"}}], "mark": {"type": "point", "shape": "M-0.9,-0.9H0.9V0.9H-0.9Z"}},
        {"data": {"name": "base"}, "transform": [{"filter": {"field": "method", "equal": "ETS"}}], "mark": {"type": "point", "shape": "M-0.9,0A0.9,0.9 0 1,0 0.9,0A0.9,0.9 0 1,0 -0.9,0Z"}},
        {"data": {"name": "base"}, "transform": [{"filter": {"field": "method", "equal": "AR"}}], "mark": {"type": "point", "shape": "M0,-1.05L0.95,0.7H-0.95Z"}},
        {"data": {"name": "base"}, "transform": [{"filter": {"field": "method", "equal": "ARIMA"}}], "mark": {"type": "point", "shape": "M-1.1,0H1.1M0,-1.1V1.1"}},
        {"data": {"name": "base"}, "transform": [{"filter": {"field": "method", "equal": "Theta"}}], "mark": {"type": "point", "shape": "M-0.85,-0.85L0.85,0.85M-0.85,0.85L0.85,-0.85"}},
        {"data": {"name": "base"}, "transform": [{"filter": {"field": "method", "equal": "MAPA"}}], "mark": {"type": "point", "shape": "M0,-1.2L1.2,0L0,1.2L-1.2,0Z"}}
      ]
    },
    {
      "title": "Combinations",
      "width": 498,
      "height": 424,
      "encoding": {
        "x": {"field": "x", "type": "quantitative", "scale": {"domain": [-6.82, 6.53], "nice": false, "zero": false}, "axis": {"values": [-6, -4, -2, 0, 2, 4, 6], "format": "d"}},
        "y": {"field": "y", "type": "quantitative", "scale": {"domain": [0, 1.2], "nice": false, "zero": false}, "axis": {"values": [0, 0.2, 0.4, 0.6, 0.8, 1.0, 1.2], "format": ".1f"}},
        "color": {"field": "method", "type": "nominal", "scale": {"domain": ["Reference normal", "Mean", "Median", "Optimal", "Optimal adaptive", "Optimal adaptive RW", "Regression", "Regression RW", "Outperformance", "Bates I", "Bates II", "Bates III", "Bates IV", "Bates V"], "range": ["#000000", "#FF0000", "#FF7600", "#FFEC00", "#9DFF00", "#27FF00", "#00FF4E", "#00FFC4", "#00C4FF", "#004EFF", "#2700FF", "#9D00FF", "#FF00EC", "#FF0076"]}, "legend": {"rowPadding": -1.45, "symbolType": {"expr": "['M-10,-0.75H10M-10,-0.25H10M-10,0.25H10M-10,0.75H10','M-10,0H10M-1.5,-1.5H1.5V1.5H-1.5Z','M-10,0H10M-1.5,0A1.5,1.5 0 1,0 1.5,0A1.5,1.5 0 1,0 -1.5,0Z','M-10,0H10M0,-1.8L1.6,1.1H-1.6Z','M-10,0H10M0,-1.8V1.8','M-10,0H10M-1.4,-1.4L1.4,1.4M-1.4,1.4L1.4,-1.4','M-10,0H10M0,-2L2,0L0,2L-2,0Z','M-10,0H10M0,1.8L1.6,-1.1H-1.6Z','M-10,0H10M-1.5,-1.5H1.5V1.5H-1.5ZM-1.5,-1.5L1.5,1.5M-1.5,1.5L1.5,-1.5','M-10,0H10M0,-1.7V1.7M-1.25,-1.25L1.25,1.25M-1.25,1.25L1.25,-1.25','M-10,0H10M0,-2L2,0L0,2L-2,0ZM0,-2V2','M-10,0H10M-1.5,0A1.5,1.5 0 1,0 1.5,0A1.5,1.5 0 1,0 -1.5,0ZM0,-1.5V1.5','M-10,0H10M0,-1.8L1.6,1H-1.6ZM0,1.8L1.6,-1H-1.6Z','M-10,0H10M-1.5,-1.5H1.5V1.5H-1.5ZM0,-1.5V1.5'][indexof(['Reference normal','Mean','Median','Optimal','Optimal adaptive','Optimal adaptive RW','Regression','Regression RW','Outperformance','Bates I','Bates II','Bates III','Bates IV','Bates V'], datum.value)]"}}}
      },
      "layer": [
        {"data": {"name": "normal"}, "mark": {"type": "line", "strokeWidth": 4, "clip": true, "interpolate": "monotone"}},
        {"data": {"name": "comb"}, "mark": {"type": "line", "strokeWidth": 1, "clip": true, "interpolate": "monotone"}},
        {"data": {"name": "comb"}, "transform": [{"filter": {"field": "method", "equal": "Mean"}}], "mark": {"type": "point", "shape": "M-0.9,-0.9H0.9V0.9H-0.9Z"}},
        {"data": {"name": "comb"}, "transform": [{"filter": {"field": "method", "equal": "Median"}}], "mark": {"type": "point", "shape": "M-0.9,0A0.9,0.9 0 1,0 0.9,0A0.9,0.9 0 1,0 -0.9,0Z"}},
        {"data": {"name": "comb"}, "transform": [{"filter": {"field": "method", "equal": "Optimal"}}], "mark": {"type": "point", "shape": "M0,-1.05L0.95,0.7H-0.95Z"}},
        {"data": {"name": "comb"}, "transform": [{"filter": {"field": "method", "equal": "Optimal adaptive"}}], "mark": {"type": "point", "shape": "M-1.1,0H1.1M0,-1.1V1.1"}},
        {"data": {"name": "comb"}, "transform": [{"filter": {"field": "method", "equal": "Optimal adaptive RW"}}], "mark": {"type": "point", "shape": "M-0.85,-0.85L0.85,0.85M-0.85,0.85L0.85,-0.85"}},
        {"data": {"name": "comb"}, "transform": [{"filter": {"field": "method", "equal": "Regression"}}], "mark": {"type": "point", "shape": "M0,-1.2L1.2,0L0,1.2L-1.2,0Z"}},
        {"data": {"name": "comb"}, "transform": [{"filter": {"field": "method", "equal": "Regression RW"}}], "mark": {"type": "point", "shape": "M0,1.05L0.95,-0.7H-0.95Z"}},
        {"data": {"name": "comb"}, "transform": [{"filter": {"field": "method", "equal": "Outperformance"}}], "mark": {"type": "point", "shape": "M-0.9,-0.9H0.9V0.9H-0.9ZM-0.9,-0.9L0.9,0.9M-0.9,0.9L0.9,-0.9"}},
        {"data": {"name": "comb"}, "transform": [{"filter": {"field": "method", "equal": "Bates I"}}], "mark": {"type": "point", "shape": "M-1,0H1M0,-1V1M-0.75,-0.75L0.75,0.75M-0.75,0.75L0.75,-0.75"}},
        {"data": {"name": "comb"}, "transform": [{"filter": {"field": "method", "equal": "Bates II"}}], "mark": {"type": "point", "shape": "M0,-1.2L1.2,0L0,1.2L-1.2,0ZM-1.2,0H1.2M0,-1.2V1.2"}},
        {"data": {"name": "comb"}, "transform": [{"filter": {"field": "method", "equal": "Bates III"}}], "mark": {"type": "point", "shape": "M-0.9,0A0.9,0.9 0 1,0 0.9,0A0.9,0.9 0 1,0 -0.9,0ZM-0.9,0H0.9M0,-0.9V0.9"}},
        {"data": {"name": "comb"}, "transform": [{"filter": {"field": "method", "equal": "Bates IV"}}], "mark": {"type": "point", "shape": "M0,-1.05L0.95,0.6H-0.95ZM0,1.05L0.95,-0.6H-0.95Z"}},
        {"data": {"name": "comb"}, "transform": [{"filter": {"field": "method", "equal": "Bates V"}}], "mark": {"type": "point", "shape": "M-0.9,-0.9H0.9V0.9H-0.9ZM-0.9,0H0.9M0,-0.9V0.9"}}
      ]
    }
  ]
}
